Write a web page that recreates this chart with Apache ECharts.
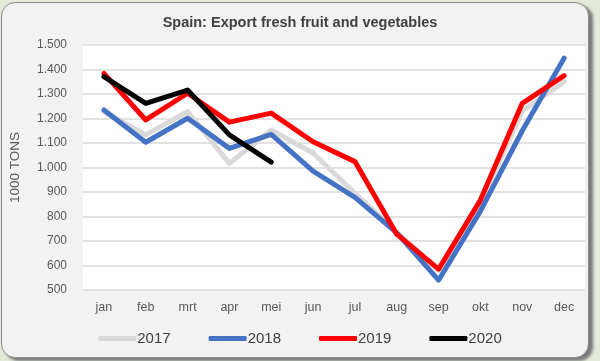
<!DOCTYPE html>
<html>
<head>
<meta charset="utf-8">
<script src="https://cdn.jsdelivr.net/npm/echarts@6/dist/echarts.min.js"></script>
<style>
html, body { margin: 0; padding: 0; width: 600px; height: 361px; background: #e3ead9; overflow: hidden; }
#panel { position: absolute; left: 1px; top: 2px; width: 586px; height: 354px; background: #f2f2f2; border: 1px solid #8c8c8c; border-radius: 14px; box-shadow: 4px 3px 3px #7a7a7a; }
#chart { position: absolute; left: 0; top: 0; width: 600px; height: 361px; }
</style>
</head>
<body>
<div id="panel"></div>
<div id="chart"></div>
<script>
const months = ['jan','feb','mrt','apr','mei','jun','jul','aug','sep','okt','nov','dec'];
const s2017 = [1228, 1133, 1228, 1017, 1153, 1059, 895, 735, 580, 855, 1230, 1350];
const s2018 = [1235, 1103, 1201, 1078, 1135, 985, 878, 733, 540, 822, 1150, 1446];
const s2019 = [1384, 1194, 1303, 1185, 1222, 1105, 1024, 728, 585, 867, 1262, 1375];
const s2020 = [1371, 1262, 1316, 1133, 1022];
const yTicks = { min: 500, max: 1500, interval: 100 };

function fmt(v) {
  const s = String(Math.round(v));
  return s.length > 3 ? s.slice(0, s.length - 3) + '.' + s.slice(-3) : s;
}

const chart = echarts.init(document.getElementById('chart'), null, { renderer: 'canvas' });
const mk = (name, data, color) => ({
  name, type: 'line', data, showSymbol: false, symbol: 'none',
  lineStyle: { color, width: 5, cap: 'round', join: 'round' },
  itemStyle: { color },
  emphasis: { disabled: true }
});
chart.setOption({
  backgroundColor: 'transparent',
  animation: false,
  title: {
    text: 'Spain: Export fresh fruit and vegetables',
    left: 'center', top: 10,
    textStyle: { fontFamily: 'Arial, Liberation Sans', fontSize: 14.5, fontWeight: 'bold', color: '#404040' }
  },
  grid: { left: 82, right: 15, top: 45, bottom: 71, show: true, backgroundColor: '#ffffff', borderWidth: 0 },
  legend: {
    bottom: 10, left: 'center', icon: 'roundRect', itemWidth: 38, itemHeight: 5, itemGap: 38,
    textStyle: { fontFamily: 'Arial, Liberation Sans', fontSize: 15, color: '#404040', padding: [0,0,0,-4] },
    data: ['2017','2018','2019','2020']
  },
  xAxis: {
    type: 'category', data: months, boundaryGap: true,
    axisLine: { show: false }, axisTick: { show: false },
    axisLabel: { margin: 11, fontFamily: 'Arial, Liberation Sans', fontSize: 12.5, color: '#595959' }
  },
  yAxis: {
    type: 'value', min: yTicks.min, max: yTicks.max, interval: yTicks.interval,
    name: '1000 TONS', nameLocation: 'middle', nameGap: 61, nameRotate: 90,
    nameTextStyle: { fontFamily: 'Arial, Liberation Sans', fontSize: 13.5, color: '#595959' },
    axisLine: { show: false }, axisTick: { show: false },
    axisLabel: { margin: 16, formatter: fmt, fontFamily: 'Arial, Liberation Sans', fontSize: 12, color: '#595959' },
    splitLine: { lineStyle: { color: '#d9d9d9', width: 1.5 } }
  },
  series: [
    mk('2017', s2017, '#d9d9d9'),
    mk('2018', s2018, '#4472c4'),
    mk('2019', s2019, '#ff0000'),
    mk('2020', s2020, '#000000')
  ]
});
</script>
</body>
</html>
